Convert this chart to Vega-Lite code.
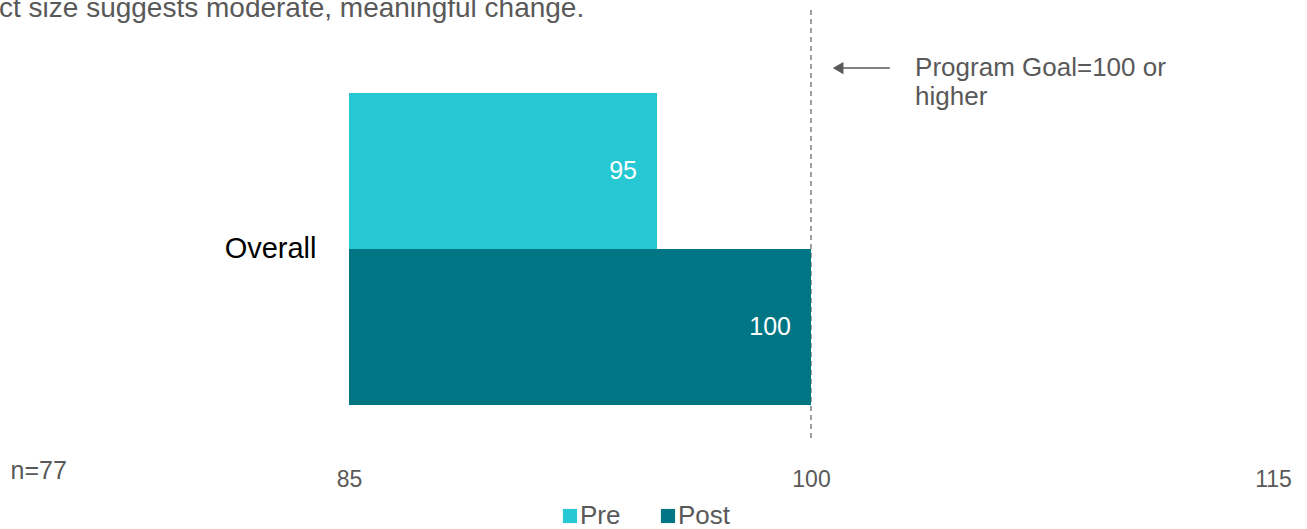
{
  "$schema": "https://vega.github.io/schema/vega-lite/v6.json",
  "autosize": "none",
  "width": 924,
  "height": 430,
  "padding": {"left": 349, "top": 10, "right": 34, "bottom": 89},
  "background": "white",
  "config": {
    "font": "Liberation Sans",
    "view": {"stroke": null}
  },
  "title": {
    "text": "ct size suggests moderate, meaningful change.",
    "anchor": "start",
    "frame": "group",
    "dx": -350,
    "dy": 35,
    "offset": 0,
    "baseline": "alphabetic",
    "fontSize": 28,
    "fontWeight": "normal",
    "color": "#595959",
    "font": "Liberation Sans"
  },
  "layer": [
    {
      "data": {
        "values": [
          {"category": "Overall", "series": "Pre", "value": 95},
          {"category": "Overall", "series": "Post", "value": 100}
        ]
      },
      "encoding": {
        "y": {
          "field": "category",
          "type": "nominal",
          "scale": {"paddingInner": 0, "paddingOuter": 0.189, "align": 0.703},
          "axis": {
            "title": "n=77",
            "titleAngle": 0,
            "titleX": -339,
            "titleY": 460,
            "titleAlign": "left",
            "titleBaseline": "middle",
            "titleFontSize": 25,
            "titleFontWeight": "normal",
            "titleColor": "#595959",
            "labelFontSize": 29,
            "labelColor": "#000000",
            "labelPadding": 33,
            "ticks": false,
            "domain": false,
            "grid": false
          }
        },
        "yOffset": {
          "field": "series",
          "type": "nominal",
          "sort": ["Pre", "Post"],
          "scale": {"domain": ["Pre", "Post"], "paddingInner": 0, "paddingOuter": 0}
        }
      },
      "layer": [
        {
          "mark": {"type": "rule", "color": "#808080", "strokeDash": [5, 4], "strokeWidth": 1},
          "encoding": {"x": {"datum": 100, "type": "quantitative"}, "y": null, "yOffset": null}
        },
        {
          "mark": {"type": "bar"},
          "encoding": {
            "x": {
              "field": "value",
              "type": "quantitative",
              "scale": {"domain": [85, 115], "zero": false, "nice": false},
              "axis": {
                "title": null,
                "values": [85, 100, 115],
                "grid": false,
                "domain": false,
                "ticks": false,
                "labelFlush": false,
                "labelFontSize": 23,
                "labelColor": "#595959",
                "labelPadding": 28
              }
            },
            "x2": {"datum": 85},
            "color": {
              "field": "series",
              "type": "nominal",
              "sort": ["Pre", "Post"],
              "scale": {"domain": ["Pre", "Post"], "range": ["#26C9D3", "#007685"]},
              "legend": {
                "title": null,
                "orient": "none",
                "direction": "horizontal",
                "legendX": 208,
                "legendY": 493,
                "symbolType": "square",
                "symbolSize": 200,
                "symbolStrokeWidth": 0,
                "labelFontSize": 26,
                "labelColor": "#595959",
                "labelOffset": -3,
                "columnPadding": 34
              }
            }
          }
        },
        {
          "mark": {"type": "text", "align": "right", "baseline": "middle", "dx": -20, "fontSize": 25, "color": "white"},
          "encoding": {
            "x": {"field": "value", "type": "quantitative"},
            "text": {"field": "value", "type": "quantitative"}
          }
        }
      ]
    },
    {
      "data": {
        "values": [
          {"kind": "arrow", "xa": 102.56, "xb": 100.88, "y": 86.5}
        ]
      },
      "layer": [
        {
          "mark": {"type": "rule", "color": "#595959", "strokeWidth": 1.5},
          "encoding": {
            "x": {"field": "xa", "type": "quantitative"},
            "x2": {"field": "xb"},
            "y": {"field": "y", "type": "quantitative", "scale": {"domain": [0, 100]}, "axis": null}
          }
        },
        {
          "mark": {"type": "point", "shape": "triangle-left", "filled": true, "color": "#595959", "size": 150, "opacity": 1},
          "encoding": {
            "x": {"field": "xb", "type": "quantitative"},
            "y": {"field": "y", "type": "quantitative", "scale": {"domain": [0, 100]}, "axis": null}
          }
        }
      ]
    },
    {
      "data": {
        "values": [
          {"x": 103.38, "y": 86.5}
        ]
      },
      "mark": {"type": "text", "align": "left", "baseline": "middle", "fontSize": 26, "color": "#595959", "lineHeight": 29},
      "encoding": {
        "x": {"field": "x", "type": "quantitative"},
        "y": {"field": "y", "type": "quantitative", "scale": {"domain": [0, 100]}, "axis": null},
        "text": {"value": ["Program Goal=100 or", "higher"]}
      }
    }
  ],
  "resolve": {"scale": {"y": "independent", "x": "shared"}, "axis": {"y": "independent"}}
}
